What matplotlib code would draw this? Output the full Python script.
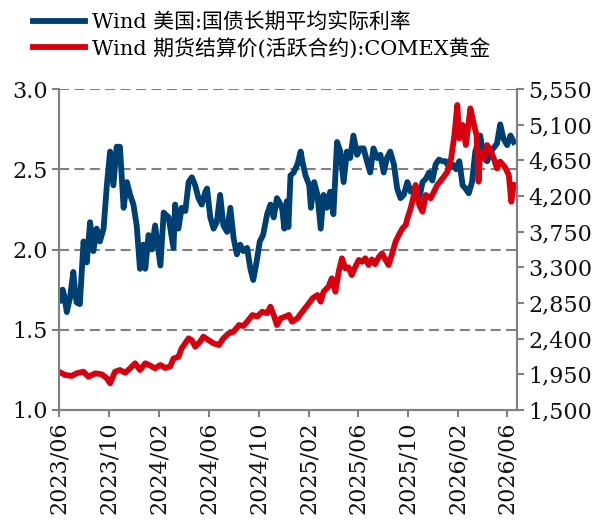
import pandas as pd
import matplotlib
matplotlib.use("Agg")
import matplotlib.pyplot as plt
import matplotlib.dates as mdates
from matplotlib.ticker import FuncFormatter

rate_dates = [
    "2023-06-01", "2023-06-06", "2023-06-10", "2023-06-15", "2023-06-20", "2023-06-28",
    "2023-07-06", "2023-07-10", "2023-07-14", "2023-07-22", "2023-07-31", "2023-08-08",
    "2023-08-16", "2023-08-24", "2023-09-01", "2023-09-09", "2023-09-18", "2023-09-26",
    "2023-10-04", "2023-10-12", "2023-10-20", "2023-10-28", "2023-11-06", "2023-11-14",
    "2023-11-22", "2023-11-30", "2023-12-08", "2023-12-16", "2023-12-24", "2023-12-29",
    "2024-01-06", "2024-01-14", "2024-01-22", "2024-02-04", "2024-02-12", "2024-02-24",
    "2024-03-07", "2024-03-11", "2024-03-19", "2024-03-27", "2024-04-05", "2024-04-13",
    "2024-04-21", "2024-04-29", "2024-05-07", "2024-05-15", "2024-05-24", "2024-05-28",
    "2024-06-05", "2024-06-13", "2024-06-21", "2024-06-29", "2024-07-07", "2024-07-16",
    "2024-07-24", "2024-08-01", "2024-08-09", "2024-08-17", "2024-08-25", "2024-09-03",
    "2024-09-11", "2024-09-18", "2024-09-26", "2024-10-04", "2024-10-12", "2024-10-22",
    "2024-10-30", "2024-11-07", "2024-11-15", "2024-11-24", "2024-11-28", "2024-12-03",
    "2024-12-09", "2024-12-13", "2024-12-18", "2024-12-26", "2025-01-04", "2025-01-12",
    "2025-01-16", "2025-01-24", "2025-02-02", "2025-02-06", "2025-02-14", "2025-02-22",
    "2025-03-02", "2025-03-09", "2025-03-17", "2025-03-25", "2025-04-02", "2025-04-11",
    "2025-04-19", "2025-04-27", "2025-05-05", "2025-05-13", "2025-05-21", "2025-05-30",
    "2025-06-07", "2025-06-15", "2025-06-23", "2025-07-01", "2025-07-09", "2025-07-18",
    "2025-07-26", "2025-08-03", "2025-08-11", "2025-08-19", "2025-08-28", "2025-09-05",
    "2025-09-13", "2025-09-21", "2025-09-30", "2025-10-08", "2025-10-16", "2025-10-29",
    "2025-11-06", "2025-11-14", "2025-11-22", "2025-11-30", "2025-12-08", "2025-12-16",
    "2025-12-25", "2026-01-02", "2026-01-10", "2026-01-19", "2026-01-27", "2026-02-04",
    "2026-02-12", "2026-02-19", "2026-02-27", "2026-03-07", "2026-03-15", "2026-03-27",
    "2026-04-05", "2026-04-13", "2026-04-25", "2026-05-07", "2026-05-15", "2026-05-23",
    "2026-06-01", "2026-06-09", "2026-06-17",
]
rate_values = [
    1.74, 1.68, 1.75, 1.70, 1.61, 1.70,
    1.86, 1.75, 1.67, 1.66, 2.05, 1.92,
    2.17, 1.99, 2.13, 2.05, 2.13, 2.40,
    2.61, 2.40, 2.64, 2.64, 2.26, 2.42,
    2.34, 2.28, 2.15, 1.88, 2.03, 1.88,
    2.09, 2.00, 2.15, 1.90, 2.23, 2.20,
    2.01, 2.28, 2.13, 2.26, 2.24, 2.42,
    2.45, 2.40, 2.32, 2.28, 2.36, 2.38,
    2.20, 2.13, 2.17, 2.34, 2.15, 2.11,
    2.26, 2.07, 1.97, 2.03, 1.99, 2.01,
    1.88, 1.81, 1.92, 2.05, 2.09, 2.22,
    2.28, 2.20, 2.32, 2.28, 2.25, 2.13,
    2.30, 2.14, 2.46, 2.48, 2.53, 2.61,
    2.55, 2.46, 2.40, 2.26, 2.42, 2.34,
    2.13, 2.34, 2.26, 2.36, 2.22, 2.67,
    2.61, 2.42, 2.61, 2.57, 2.71, 2.59,
    2.63, 2.63, 2.55, 2.48, 2.63, 2.57,
    2.59, 2.48, 2.57, 2.61, 2.53, 2.38,
    2.32, 2.34, 2.42, 2.36, 2.38, 2.32,
    2.42, 2.44, 2.48, 2.43, 2.53, 2.56,
    2.55, 2.55, 2.51, 2.53, 2.50, 2.55,
    2.40, 2.38, 2.35, 2.42, 2.61, 2.71,
    2.57, 2.55, 2.62, 2.66, 2.78, 2.69,
    2.65, 2.71, 2.67,
]

# COMEX gold settlement price (right axis)
gold_dates = [
    "2023-06-01", "2023-06-16", "2023-07-02", "2023-07-14", "2023-07-31", "2023-08-12",
    "2023-08-29", "2023-09-14", "2023-09-26", "2023-10-04", "2023-10-16", "2023-10-28",
    "2023-11-10", "2023-11-22", "2023-12-04", "2023-12-16", "2023-12-29", "2024-01-10",
    "2024-01-22", "2024-02-04", "2024-02-16", "2024-02-28", "2024-03-07", "2024-03-19",
    "2024-03-27", "2024-04-13", "2024-04-21", "2024-04-29", "2024-05-11", "2024-05-19",
    "2024-06-01", "2024-06-13", "2024-06-26", "2024-07-07", "2024-07-20", "2024-08-01",
    "2024-08-14", "2024-08-25", "2024-09-03", "2024-09-16", "2024-09-28", "2024-10-10",
    "2024-10-22", "2024-10-30", "2024-11-07", "2024-11-15", "2024-11-24", "2024-12-06",
    "2024-12-14", "2024-12-22", "2025-01-04", "2025-01-16", "2025-01-29", "2025-02-10",
    "2025-02-22", "2025-03-02", "2025-03-09", "2025-03-21", "2025-03-29", "2025-04-07",
    "2025-04-15", "2025-04-23", "2025-05-01", "2025-05-09", "2025-05-17", "2025-05-25",
    "2025-06-03", "2025-06-11", "2025-06-19", "2025-06-27", "2025-07-05", "2025-07-13",
    "2025-07-22", "2025-07-30", "2025-08-07", "2025-08-15", "2025-08-24", "2025-09-01",
    "2025-09-09", "2025-09-18", "2025-09-26", "2025-09-30", "2025-10-08", "2025-10-16",
    "2025-10-20", "2025-10-29", "2025-11-06", "2025-11-14", "2025-11-26", "2025-12-04",
    "2025-12-12", "2025-12-25", "2026-01-06", "2026-01-15", "2026-01-23", "2026-01-30",
    "2026-02-04", "2026-02-12", "2026-02-20", "2026-02-28", "2026-03-03", "2026-03-10",
    "2026-03-18", "2026-03-23", "2026-03-27", "2026-04-05", "2026-04-13", "2026-04-21",
    "2026-04-29", "2026-05-07", "2026-05-15", "2026-05-27", "2026-06-05", "2026-06-11",
    "2026-06-17",
]
gold_values = [
    1983, 1942, 1930, 1963, 1983, 1920,
    1963, 1950, 1900, 1837, 1983, 2005,
    1970, 2026, 2089, 2005, 2089, 2060,
    2026, 2068, 2030, 2050, 2150, 2170,
    2278, 2404, 2380, 2299, 2362, 2425,
    2380, 2341, 2320, 2404, 2467, 2488,
    2572, 2560, 2614, 2698, 2680, 2740,
    2720, 2803, 2698, 2572, 2656, 2680,
    2700, 2614, 2656, 2740, 2825, 2909,
    2951, 2867, 2993, 3056, 3161, 2993,
    3245, 3414, 3288, 3300, 3203, 3300,
    3393, 3370, 3414, 3330, 3400, 3340,
    3430, 3477, 3400, 3330, 3477, 3624,
    3708, 3792, 3834, 3918, 4045, 4213,
    4339, 4086, 4002, 4213, 4171, 4255,
    4339, 4423, 4507, 4676, 4970, 5348,
    4928, 5096, 4843, 5180, 5306, 5138,
    4970, 4381, 4759, 4676, 4843, 4780,
    4676, 4549, 4634, 4560, 4465, 4128,
    4339,
]

rate_label = "Wind 美国:国债长期平均实际利率"
gold_label = "Wind 期货结算价(活跃合约):COMEX黄金"

left_ticks = [1.0, 1.5, 2.0, 2.5, 3.0]
right_ticks = [1500, 1950, 2400, 2850, 3300, 3750, 4200, 4650, 5100, 5550]
x_ticks = ["2023-06-01", "2023-10-01", "2024-02-01", "2024-06-01", "2024-10-01",
           "2025-02-01", "2025-06-01", "2025-10-01", "2026-02-01", "2026-06-01"]

blue = "#003f72"
red = "#d7000f"
gray = "#808080"

plt.rcParams["font.family"] = ["DejaVu Serif", "Noto Sans CJK SC"]

fig = plt.figure(figsize=(5.97, 5.20), dpi=100)
ax = fig.add_axes([59 / 597, 1 - 410 / 520, (517 - 59) / 597, (410 - 89) / 520])
ax2 = ax.twinx()

l1, = ax.plot(pd.to_datetime(rate_dates), rate_values, color=blue, lw=4.2,
              solid_joinstyle="round")
l2, = ax2.plot(pd.to_datetime(gold_dates), gold_values, color=red, lw=4.2,
               solid_joinstyle="round")

ax.set_xlim(pd.Timestamp("2023-06-01"), pd.Timestamp("2026-06-25"))
ax.set_ylim(1.0, 3.0)
ax2.set_ylim(1500, 5550)

ax.set_yticks(left_ticks)
ax.yaxis.set_major_formatter(FuncFormatter(lambda v, p: "%.1f" % v))
ax2.set_yticks(right_ticks)
ax2.yaxis.set_major_formatter(FuncFormatter(lambda v, p: "{:,}".format(int(v))))
ax.set_xticks(pd.to_datetime(x_ticks))
ax.xaxis.set_major_formatter(mdates.DateFormatter("%Y/%m"))

# dashed gridlines on the left-axis ticks
for g in left_ticks[1:]:
    ax.axhline(g, color=gray, lw=1.5, ls=(0, (4.8, 2.6)), zorder=0)

for a in (ax, ax2):
    a.spines["top"].set_visible(False)
    for s in a.spines.values():
        s.set_color(gray)
        s.set_linewidth(1.5)
    a.tick_params(direction="out", length=5, width=1.5, color=gray,
                  labelsize=16, labelcolor="#111111", pad=3)
ax.tick_params(axis="x", labelrotation=90)

fig.legend([l1, l2], [rate_label, gold_label], loc="upper left",
           bbox_to_anchor=(0.035, 1.0), frameon=False, fontsize=15,
           handlelength=2.5, handletextpad=0.3, labelspacing=0.25,
           borderaxespad=0.2)

fig.savefig("out.png", dpi=100)
